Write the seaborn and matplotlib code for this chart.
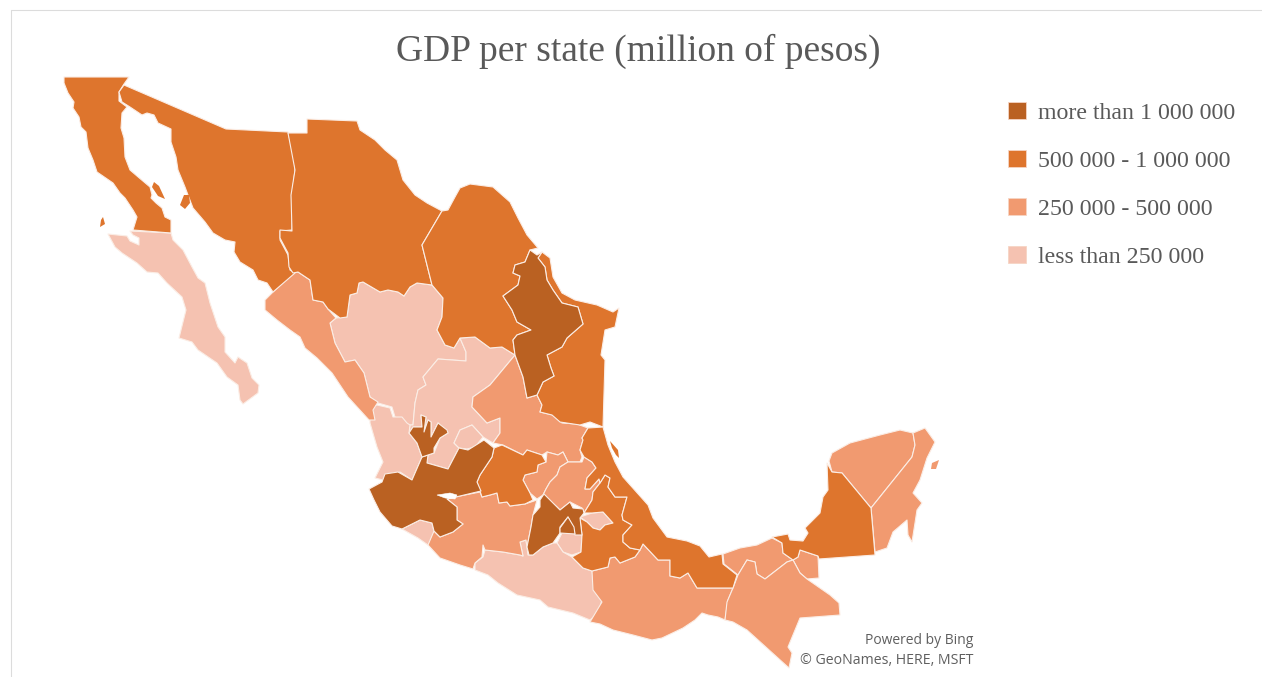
import matplotlib
matplotlib.use("Agg")
import matplotlib.pyplot as plt
from matplotlib.patches import Patch
import seaborn as sns

# GDP classes and their colours
class_labels = ["more than 1 000 000", "500 000 - 1 000 000", "250 000 - 500 000", "less than 250 000"]
class_colors = ["#BA6122", "#DE752D", "#F19A70", "#F5C2B1"]
title_text = "GDP per state (million of pesos)"

# State outlines on the projected map grid
baja_california = [(64,77),(129,77),(124,84),(119,92),(119,101),(127,107),(122,113),(121,128),(124,138),(125,157),(130,170),(137,176),(150,187),(152,195),(151,198),(156,203),(162,208),(165,217),(171,220),(171,233),(133,230),(137,217),(133,210),(125,198),(120,193),(113,183),(97,172),(93,160),(88,148),(86,132),(81,127),(79,117),(73,108),(74,102),(68,93),(64,83)]
isla_cedros = [(103,217),(105,224),(100,227),(101,220)]
isla_angel = [(154,182),(159,186),(165,199),(158,196),(152,187)]
sonora = [(124,85),(226,129),(288,132),(294,157),(295,170),(292,195),(292,230),(280,231),(280,240),(288,255),(290,270),(295,273),(273,292),(267,283),(258,280),(253,270),(240,262),(234,252),(235,242),(225,240),(213,233),(205,222),(193,208),(188,195),(185,187),(178,170),(176,157),(171,142),(171,129),(158,123),(154,115),(147,113),(142,115),(130,107),(122,102),(119,92)]
isla_tiburon = [(184,195),(189,195),(190,203),(185,209),(180,205)]
baja_california_sur = [(108,234),(127,236),(130,241),(139,245),(139,238),(133,235),(130,231),(171,233),(173,240),(183,250),(192,267),(198,278),(205,283),(210,303),(218,327),(225,337),(225,352),(235,363),(238,357),(247,363),(252,378),(259,385),(258,393),(243,404),(240,400),(238,385),(227,377),(217,363),(198,350),(192,342),(179,338),(186,310),(182,297),(167,283),(158,273),(147,272),(137,263),(122,253),(115,247)]
chihuahua = [(307,119),(357,121),(360,130),(375,140),(385,150),(397,160),(403,180),(415,195),(427,203),(442,211),(422,245),(432,285),(417,283),(410,287),(404,296),(398,292),(388,290),(380,292),(363,282),(359,283),(357,293),(350,295),(347,317),(340,318),(328,309),(323,302),(313,300),(310,280),(298,272),(293,273),(289,267),(288,253),(280,238),(280,230),(292,231),(291,195),(295,170),(288,133),(307,133)]
coahuila = [(442,211),(448,210),(455,197),(460,188),(470,184),(493,187),(510,202),(518,218),(527,235),(538,248),(530,250),(525,262),(515,265),(513,273),(520,276),(518,285),(503,296),(512,310),(517,322),(531,330),(517,335),(513,340),(515,355),(502,347),(490,348),(475,337),(460,338),(454,348),(445,345),(437,330),(442,317),(443,298),(432,285),(422,245)]
nuevo_leon = [(530,250),(537,255),(542,252),(538,258),(545,267),(547,280),(553,290),(562,303),(578,307),(583,324),(567,338),(562,347),(547,355),(551,368),(554,376),(543,382),(537,395),(527,398),(523,377),(515,355),(513,340),(517,335),(531,330),(517,322),(512,310),(503,296),(518,285),(520,276),(513,273),(515,265),(525,262)]
tamaulipas = [(542,252),(550,258),(553,277),(562,293),(575,300),(597,305),(613,312),(619,308),(615,327),(605,330),(601,355),(605,360),(603,427),(590,422),(580,425),(560,422),(552,415),(540,412),(542,405),(537,395),(543,382),(554,376),(551,368),(547,355),(562,347),(567,338),(583,324),(578,307),(562,303),(553,290),(547,280),(545,267),(538,258)]
sinaloa = [(293,273),(298,272),(310,280),(313,300),(323,302),(328,309),(336,318),(330,323),(335,343),(345,362),(355,360),(364,373),(370,397),(378,402),(373,410),(375,420),(369,420),(348,397),(332,373),(317,358),(305,348),(300,337),(290,330),(277,320),(265,310),(265,300),(273,292)]
durango = [(336,318),(347,317),(350,295),(357,293),(359,283),(363,282),(380,292),(388,290),(398,292),(404,296),(410,287),(417,283),(432,285),(443,298),(442,317),(437,330),(445,345),(454,348),(460,338),(466,352),(466,361),(438,359),(423,377),(426,385),(418,390),(415,403),(413,425),(403,425),(395,417),(392,407),(378,403),(370,397),(364,373),(355,360),(345,362),(335,343),(330,323)]
zacatecas = [(466,361),(466,352),(460,338),(475,337),(490,348),(502,347),(515,355),(505,367),(490,385),(473,397),(472,407),(487,423),(500,418),(500,433),(493,443),(483,437),(472,425),(460,430),(454,443),(459,448),(448,469),(427,463),(428,455),(434,453),(440,438),(448,433),(438,423),(431,437),(431,422),(428,420),(424,432),(426,417),(421,415),(422,427),(413,427),(409,433),(410,425),(413,425),(415,403),(418,390),(426,385),(423,377),(438,359)]
aguascalientes = [(460,430),(472,425),(483,437),(475,447),(467,449),(459,448),(454,443)]
nayarit = [(370,407),(377,405),(390,408),(393,417),(402,417),(407,423),(410,425),(409,433),(417,443),(422,457),(412,480),(400,472),(383,480),(375,478),(383,462),(377,447),(370,423)]
jalisco = [(422,457),(428,455),(427,463),(448,469),(459,448),(468,450),(484,440),(494,448),(492,457),(480,475),(477,482),(481,491),(460,496),(447,499),(457,507),(457,520),(463,524),(453,532),(440,537),(434,531),(432,523),(420,520),(402,529),(392,526),(380,512),(374,500),(369,489),(382,482),(385,474),(398,472),(412,480)]
jalisco_north = [(409,433),(413,427),(422,427),(421,415),(426,417),(424,432),(428,420),(431,422),(431,437),(438,423),(447,430),(448,433),(440,438),(434,448),(434,453),(428,455),(422,457),(417,443)]
lago_chapala = [(437,495),(450,493),(457,495),(455,499),(445,498)]
san_luis_potosi = [(515,355),(523,377),(527,398),(537,395),(542,405),(540,412),(553,415),(562,423),(577,424),(588,428),(582,438),(583,440),(580,450),(582,457),(580,462),(568,462),(563,452),(558,455),(547,452),(542,455),(527,450),(523,455),(503,445),(493,443),(500,433),(500,418),(487,423),(472,407),(473,397),(490,385),(505,367)]
guanajuato = [(494,448),(502,445),(523,455),(527,450),(542,455),(546,462),(538,465),(537,472),(525,475),(523,480),(530,493),(533,500),(525,504),(510,506),(507,502),(499,503),(497,493),(490,495),(482,497),(477,482),(480,475),(492,457)]
queretaro = [(546,462),(547,452),(558,455),(563,452),(568,462),(560,467),(557,475),(550,482),(546,489),(543,495),(537,499),(530,493),(523,480),(525,475),(537,472),(538,465)]
hidalgo = [(568,462),(582,462),(584,457),(592,462),(596,468),(587,478),(585,489),(590,489),(599,479),(600,483),(593,492),(592,500),(584,513),(582,508),(570,502),(560,510),(557,507),(543,495),(546,489),(550,482),(557,475),(560,467)]
estado_de_mexico = [(544,494),(557,507),(560,510),(570,502),(573,508),(583,509),(584,513),(580,518),(582,535),(575,535),(573,527),(568,517),(560,527),(560,533),(553,543),(543,547),(533,555),(529,555),(527,547),(531,527),(533,515),(540,507),(540,500)]
ciudad_de_mexico = [(560,528),(568,517),(574,527),(575,534),(560,533)]
tlaxcala = [(580,517),(592,513),(603,512),(613,523),(605,525),(600,530),(593,528),(587,522)]
morelos = [(557,543),(562,533),(575,533),(582,535),(581,552),(572,555),(563,552)]
puebla = [(605,475),(610,478),(608,487),(615,497),(627,497),(622,515),(623,520),(632,525),(623,535),(623,542),(630,548),(640,550),(635,557),(620,563),(615,557),(610,558),(608,567),(592,571),(583,568),(572,557),(581,552),(582,535),(580,518),(587,522),(593,528),(600,530),(605,525),(613,523),(603,512),(592,513),(584,513),(592,500),(593,492),(600,483)]
veracruz = [(588,428),(603,427),(608,445),(615,462),(623,477),(648,505),(653,518),(667,537),(687,541),(700,546),(709,557),(722,554),(723,564),(737,575),(733,588),(697,588),(688,573),(680,578),(670,576),(670,560),(658,560),(643,544),(640,550),(630,548),(623,542),(623,535),(632,525),(623,520),(622,515),(627,497),(615,497),(608,487),(610,478),(605,475),(600,483),(599,479),(590,489),(585,489),(587,478),(596,468),(592,462),(584,457),(580,450),(583,440),(582,438)]
laguna_veracruz = [(610,441),(618,450),(619,458),(616,455),(612,448)]
oaxaca = [(592,571),(608,567),(610,558),(615,557),(620,563),(635,557),(640,550),(643,544),(658,560),(670,560),(670,576),(680,578),(688,573),(697,588),(733,588),(728,600),(725,620),(718,617),(708,615),(702,613),(695,620),(683,628),(662,638),(652,640),(633,635),(613,630),(600,624),(590,622),(602,602),(593,590)]
guerrero = [(475,563),(483,557),(485,550),(503,552),(520,555),(523,556),(520,542),(526,540),(528,555),(533,555),(543,547),(553,543),(557,543),(563,552),(572,557),(583,568),(592,571),(595,590),(602,600),(598,613),(590,620),(573,613),(548,607),(540,600),(517,595),(498,583),(488,575),(475,570)]
michoacan = [(447,499),(460,496),(480,492),(482,497),(490,495),(497,493),(499,503),(507,502),(510,506),(525,504),(537,500),(533,515),(531,527),(527,547),(526,540),(520,542),(523,556),(520,555),(503,552),(485,550),(483,545),(482,557),(475,563),(473,569),(460,565),(440,558),(428,545),(434,531),(440,537),(453,532),(463,524),(457,520),(457,507)]
colima = [(402,529),(420,520),(432,523),(434,531),(434,537),(428,545),(418,538)]
tabasco = [(723,554),(740,548),(757,545),(772,538),(782,543),(783,553),(793,560),(787,562),(765,579),(757,574),(755,562),(747,560),(738,575),(724,564)]
tabasco_east = [(800,550),(818,556),(819,578),(807,579),(800,573),(793,560),(798,557)]
chiapas = [(747,560),(755,562),(757,574),(765,579),(787,562),(793,560),(800,573),(807,579),(830,595),(839,603),(840,615),(800,618),(788,647),(792,653),(789,668),(747,630),(733,622),(725,620),(727,602),(733,588),(738,575)]
campeche = [(772,537),(788,534),(790,540),(803,541),(808,533),(805,528),(820,513),(823,497),(828,490),(827,463),(832,472),(842,473),(871,508),(875,555),(819,559),(818,556),(800,550),(798,557),(793,560),(783,553),(782,543)]
yucatan = [(829,461),(832,453),(850,443),(880,435),(900,430),(913,433),(915,445),(912,457),(871,508),(842,473),(832,472)]
quintana_roo = [(913,433),(925,428),(935,442),(927,458),(920,480),(913,493),(922,503),(917,510),(915,523),(912,542),(908,535),(907,520),(893,532),(887,548),(875,552),(871,508),(912,457),(915,445)]
isla_cozumel = [(932,463),(939,460),(936,469),(931,469)]

# Outlines per GDP class, index follows class_labels
class_shapes = [
    [nuevo_leon, jalisco, jalisco_north, estado_de_mexico, ciudad_de_mexico],
    [baja_california, sonora, chihuahua, coahuila, tamaulipas, guanajuato, puebla, veracruz, campeche],
    [sinaloa, san_luis_potosi, queretaro, hidalgo, michoacan, oaxaca, tabasco, tabasco_east, chiapas,
     yucatan, quintana_roo],
    [baja_california_sur, durango, zacatecas, aguascalientes, nayarit, tlaxcala, morelos, guerrero, colima],
]
# Islands carry no border, it would swallow them
class_islands = [[], [isla_cedros, isla_angel, isla_tiburon, laguna_veracruz], [isla_cozumel], []]

sns.set_theme(style="white")
plt.rcParams["font.family"] = ["Liberation Serif", "DejaVu Serif"]
palette = sns.color_palette(class_colors)

fig = plt.figure(figsize=(12.62, 6.77), dpi=100, facecolor="white")
ax = fig.add_axes([0, 0, 1, 1])
ax.set_xlim(0, 1262)
ax.set_ylim(677, 0)
ax.axis("off")

# Outer chart frame: top and left edges only
ax.plot([11, 11, 1262], [677, 10, 10], color="#DCDCDC", lw=0.8, zorder=1)

# Light classes first so the darker states keep their borders on top
for level in [3, 2, 1, 0]:
    for outline in class_shapes[level]:
        xs, ys = zip(*outline)
        ax.fill(xs, ys, facecolor=palette[level], edgecolor="#FBEDE5", lw=0.8,
                joinstyle="round", zorder=2 + (3 - level) * 0.1)
    for outline in class_islands[level]:
        xs, ys = zip(*outline)
        ax.fill(xs, ys, facecolor=palette[level], edgecolor="none", zorder=2.5)

xs, ys = zip(*lago_chapala)
ax.fill(xs, ys, facecolor="white", edgecolor="white", lw=0.4, zorder=3)

ax.text(638, 61, title_text, ha="center", va="baseline", fontsize=27, color="#595959")

handles = [Patch(facecolor=c, edgecolor="#F6D5C4", lw=0.6, label=l) for c, l in zip(palette, class_labels)]
legend = ax.legend(handles=handles, loc="upper left", bbox_to_anchor=(1002 / 1262, 1 - 96 / 677),
                   bbox_transform=fig.transFigure, frameon=False, fontsize=17.2, labelcolor="#595959",
                   handlelength=0.75, handleheight=0.75, handletextpad=0.5, labelspacing=1.08,
                   borderpad=0.25, borderaxespad=0)

ax.text(973, 640, "Powered by Bing", ha="right", va="center", fontsize=10, color="#5F5F5F", family="Open Sans")
ax.text(973, 660, "© GeoNames, HERE, MSFT", ha="right", va="center", fontsize=10.2, color="#5F5F5F", family="Open Sans")

fig.savefig("out.png", dpi=100, facecolor="white")
